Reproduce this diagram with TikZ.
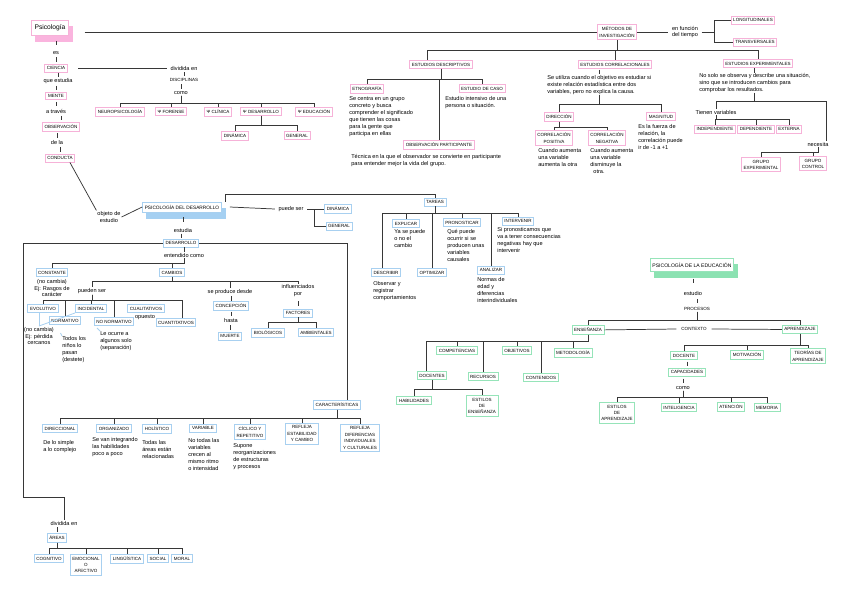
\documentclass[tikz,border=0pt]{standalone}
\usepackage{fontspec}
\setmainfont{Liberation Sans}
\usetikzlibrary{calc,backgrounds}
\definecolor{linec}{RGB}{55,55,55}
\definecolor{pinkc}{RGB}{246,178,216}
\definecolor{pinkf}{RGB}{250,180,222}
\definecolor{bluec}{RGB}{168,208,240}
\definecolor{bluef}{RGB}{165,208,242}
\definecolor{greenc}{RGB}{150,228,185}
\definecolor{greenf}{RGB}{140,226,178}
\newcommand\mytree[3]{\foreach \kid in {#3}{\draw[ln] (#1.south) -- (#1.south |- 0,#2) -| (\kid);}}
\newcommand\tk[2]{\draw[ln] ($(#1.south -| #2.north)!0.5!(#2.north)$) ++(0,-2.2) -- ++(0,4.4);}
\newcommand\shad[2]{\begin{pgfonlayer}{background}\fill[#2] ([shift={(3pt,-4.5pt)}]#1.north west) rectangle ([shift={(3pt,-4.5pt)}]#1.south east);\end{pgfonlayer}}
\begin{document}
\begin{tikzpicture}[x=0.75pt,y=-0.75pt,
  ln/.style={draw=linec,line width=0.55pt},
  lbl/.style={draw=bluec,line width=0.6pt},
  boxbase/.style={fill=white,line width=0.7pt,inner xsep=1.6pt,inner ysep=1.8pt,align=center,font=\fontsize{3.4}{4.8}\selectfont},
  pb/.style={boxbase,draw=pinkc},
  bb/.style={boxbase,draw=bluec},
  gb/.style={boxbase,draw=greenc},
  lab/.style={inner sep=0.6pt,align=center,font=\fontsize{4.2}{5.2}\selectfont},
  capl/.style={inner sep=0.6pt,align=center,font=\fontsize{3.4}{4.6}\selectfont},
  dtext/.style={inner sep=0pt,align=left,anchor=north west,font=\fontsize{4.2}{5.25}\selectfont}]
\begin{pgfonlayer}{background}
\fill[white] (0,0) rectangle (848,600);
\end{pgfonlayer}
\useasboundingbox (0,0) rectangle (848,600);

% ---------------- pink: Psicologia ----------------
\node[pb,font=\fontsize{5}{6}\selectfont,inner xsep=2pt,inner ysep=3pt] (psi) at (50,28) {Psicología};
\shad{psi}{pinkf}
\node[lab] (es) at (56,53) {es};
\node[pb] (cien) at (56,68) {CIENCIA};
\node[lab] (qe) at (58,81) {que estudia};
\node[pb] (mente) at (56,96) {MENTE};
\node[lab] (atr) at (56,111) {a través};
\node[pb] (obs) at (61,127) {OBSERVACIÓN};
\node[lab] (dla) at (57,142) {de la};
\node[pb] (cond) at (60,158) {CONDUCTA};
\tk{psi}{es} \tk{es}{cien} \tk{cien}{qe} \tk{qe}{mente} \tk{mente}{atr} \tk{atr}{obs} \tk{obs}{dla} \tk{dla}{cond}

\node[lab] (divd) at (184,68) {dividida en};
\node[capl] (disc) at (184,80) {DISCIPLINAS};
\node[lab] (como) at (181,93) {como};
\draw[ln] ([xshift=8pt]cien.east) -- ([xshift=-2pt]divd.west);
\tk{divd}{disc} \tk{disc}{como}
\node[pb,anchor=north] (neuro) at (120,107) {NEUROPSICOLOGÍA};
\node[pb,anchor=north] (fore) at (171,107) {Ψ FORENSE};
\node[pb,anchor=north] (clin) at (218,107) {Ψ CLÍNICA};
\node[pb,anchor=north] (ydes) at (261,107) {Ψ DESARROLLO};
\node[pb,anchor=north] (yedu) at (314,107) {Ψ EDUCACIÓN};
\mytree{como}{103}{neuro.north,fore.north,clin.north,ydes.north,yedu.north}
\node[pb,anchor=north] (din1) at (235,131) {DINÁMICA};
\node[pb,anchor=north] (gen1) at (297,131) {GENERAL};
\mytree{ydes}{125}{din1.north,gen1.north}

% metodos
\node[pb] (met) at (617,32) {MÉTODOS DE\\INVESTIGACIÓN};
\draw[ln] ([shift={(12pt,-3pt)}]psi.east) -- (met.west);
\node[lab] (enf) at (685,32) {en función\\del tiempo};
\draw[ln] (met.east) -- ([xshift=-2pt]enf.west);
\node[pb] (long) at (753,20) {LONGITUDINALES};
\node[pb] (trans) at (755,42) {TRANSVERSALES};
\draw[ln] ([xshift=2pt]enf.east) -- ++(13,0) coordinate (bk1);
\draw[ln] (long.west) -| (bk1) |- (trans.west);

\node[pb,anchor=north] (desc1) at (441,60) {ESTUDIOS DESCRIPTIVOS};
\node[pb,anchor=north] (correl) at (615,60) {ESTUDIOS CORRELACIONALES};
\node[pb,anchor=north] (exper) at (758,59) {ESTUDIOS EXPERIMENTALES};
\coordinate (desc1t) at ([xshift=-10pt]desc1.north);
\mytree{met}{50}{desc1t,correl.north,exper.north}

\node[pb,anchor=north] (etno) at (367,84) {ETNOGRAFÍA};
\node[pb,anchor=north] (caso) at (482,84) {ESTUDIO DE CASO};
\node[pb,anchor=north] (obsp) at (439,140) {OBSERVACIÓN PARTICIPANTE};
\mytree{desc1}{79}{etno.north,caso.north,obsp.north}
\node[dtext] (etnotx) at (349,96) {Se centra en un grupo\\concreto y busca\\comprender el significado\\que tienen las cosas\\para la gente que\\participa en ellas};
\node[dtext] (casotx) at (445,96) {Estudio intensivo de una\\persona o situación.};
\node[dtext] (obsptx) at (351,154) {Técnica en la que el observador se convierte en participante\\para entender mejor la vida del grupo.};

\node[dtext] (cortx) at (547,75) {Se utiliza cuando el objetivo es estudiar si\\existe relación estadística entre dos\\variables, pero no explica la causa.};
\tk{correl}{cortx}
\node[pb,anchor=north] (dir) at (559,112) {DIRECCIÓN};
\node[pb,anchor=north] (mag) at (661,112) {MAGNITUD};
\mytree{cortx}{104}{dir.north,mag.north}
\node[pb,anchor=north] (cpos) at (554,130) {CORRELACIÓN\\POSITIVA};
\node[pb,anchor=north] (cneg) at (607,130) {CORRELACIÓN\\NEGATIVA};
\mytree{dir}{127}{cpos.north,cneg.north}
\node[dtext] (cpostx) at (538,148) {Cuando aumenta\\una variable\\aumenta la otra};
\node[dtext] (cnegtx) at (590,148) {Cuando aumenta\\una variable\\disminuye la\\\ \ otra.};
\node[dtext] (magtx) at (638,124) {Es la fuerza de\\relación, la\\correlación puede\\ir de -1 a +1};

\node[dtext] (extx) at (699,73) {No solo se observa y describe una situación,\\sino que se introducen cambios para\\comprobar los resultados.};
\tk{exper}{extx}
\node[lab] (tien) at (716,112) {Tienen variables};
\node[lab] (nec) at (818,144) {necesita};
\coordinate (nect) at ([xshift=6pt]nec.north);
\mytree{extx}{101}{tien.north,nect}
\node[pb,anchor=north] (indep) at (715,125) {INDEPENDIENTE};
\node[pb,anchor=north] (dep) at (756,125) {DEPENDIENTE};
\node[pb,anchor=north] (ext) at (789,125) {EXTERNA};
\mytree{tien}{119}{indep.north,dep.north,ext.north}
\node[pb,anchor=north] (gexp) at (761,157) {GRUPO\\EXPERIMENTAL};
\node[pb,anchor=north] (gctrl) at (813,156) {GRUPO\\CONTROL};
\mytree{nec}{152}{gexp.north,gctrl.north}

% ---------------- blue: Psicologia del desarrollo ----------------
\node[lab] (obj) at (109,217) {objeto de\\estudio};
\draw[ln] ([xshift=-4pt]cond.south east) -- (obj.north west);
\node[bb,font=\fontsize{3.6}{4.8}\selectfont,inner ysep=2.2pt] (pdes) at (182,207) {PSICOLOGÍA DEL DESARROLLO};
\shad{pdes}{bluef}
\draw[ln] (obj.east) -- (pdes.west);
\node[lab] (pued1) at (291,209) {puede ser};
\draw[ln] ([xshift=6pt]pdes.east) -- ([xshift=-2pt]pued1.west);
\node[bb] (din2) at (338,209) {DINÁMICA};
\node[bb] (gen2) at (339,226) {GENERAL};
\draw[ln] ([xshift=2pt]pued1.east) -- (din2.west);
\coordinate (bk2) at ($(pued1.east)+(10,0)$);
\draw[ln] (bk2) |- (gen2.west);

\node[bb] (tareas) at (435,202) {TAREAS};
\draw[ln] ([xshift=3pt]pdes.north east) |- (tareas.north |- 0,194) -- (tareas.north);

\node[lab] (estd) at (183,230) {estudia};
\node[bb] (desa) at (181,243) {DESARROLLO};
\tk{pdes}{estd} \tk{estd}{desa}
\node[lab] (ent) at (184,255) {entendido como};
\tk{desa}{ent}
\node[bb,anchor=north] (const) at (52,268) {CONSTANTE};
\node[bb,anchor=north] (camb) at (172,268) {CAMBIOS};
\mytree{ent}{263}{const.north,camb.north}
\node[lab,anchor=north] (consttx) at (52,278) {(no cambia)\\Ej: Rasgos de\\carácter};

\node[lab] (pued2) at (92,291) {pueden ser};
\node[lab] (sepr) at (230,292) {se produce desde};
\node[lab] (infl) at (298,291) {influenciados\\por};
\mytree{camb}{281}{pued2.north,sepr.north,infl.north}

\node[bb,anchor=north] (evol) at (43,304) {EVOLUTIVO};
\node[bb,anchor=north] (incid) at (91,304) {INCIDENTAL};
\node[bb,anchor=north] (normat) at (65,316) {NORMATIVO};
\node[bb,anchor=north] (nonorm) at (114,317) {NO NORMATIVO};
\node[bb,anchor=north] (cuali) at (146,304) {CUALITATIVOS};
\node[lab] (opu) at (145,317) {opuesto};
\node[bb,anchor=north] (cuanti) at (176,318) {CUANTITATIVOS};
\coordinate (cuantit) at ([xshift=5pt]cuanti.north);
\mytree{pued2}{300}{evol.north,incid.north,normat.north,nonorm.north,cuantit}
\node[lab,anchor=north] (nocam) at (39,326) {(no cambia)\\Ej: pérdida\\cercanos};
\draw[lbl] (evol.south -| nocam.north) -- (nocam.north);
\draw[lbl] (incid.south west) -- (nocam.north);
\node[dtext] (todos) at (62,336) {Todos los\\niños lo\\pasan\\(destete)};
\draw[lbl] (todos.north west) -- ++(-1.5,-3);
\node[dtext] (leoc) at (100,331) {Le ocurre a\\algunos solo\\(separación)};
\draw[lbl] (leoc.north west) -- ++(-3,-3);

\node[bb] (concep) at (231,306) {CONCEPCIÓN};
\node[lab] (hasta) at (231,320) {hasta};
\node[bb] (muerte) at (230,336) {MUERTE};
\tk{sepr}{concep} \tk{concep}{hasta} \tk{hasta}{muerte}
\node[bb] (fact) at (298,313) {FACTORES};
\tk{infl}{fact}
\node[bb,anchor=north] (bio) at (268,328) {BIOLÓGICOS};
\node[bb,anchor=north] (amb) at (316,328) {AMBIENTALES};
\mytree{fact}{322}{bio.north,amb.north}

\node[bb] (car) at (337,405) {CARACTERÍSTICAS};
\draw[ln] (desa.east) -| ([xshift=7.5pt]car.north);
\node[bb,anchor=north] (direc) at (60,424) {DIRECCIONAL};
\node[bb,anchor=north] (organ) at (114,424) {ORGANIZADO};
\node[bb,anchor=north] (holis) at (157,424) {HOLÍSTICO};
\node[bb,anchor=north] (variab) at (203,424) {VARIABLE};
\node[bb,anchor=north] (cicl) at (250,424) {CÍCLICO Y\\REPETITIVO};
\node[bb,anchor=north] (refe) at (302,423) {REFLEJA\\ESTABILIDAD\\Y CAMBIO};
\node[bb,anchor=north] (refd) at (360,424) {REFLEJA\\DIFERENCIAS\\INDIVIDUALES\\Y CULTURALES};
\mytree{car}{418}{direc.north,organ.north,holis.north,variab.north,cicl.north,refe.north,refd.north}
\node[dtext] at (43,440) {De lo simple\\a lo complejo};
\node[dtext] at (92,437) {Se van integrando\\las habilidades\\poco a poco};
\node[dtext] at (142,440) {Todas las\\áreas están\\relacionadas};
\node[dtext] at (188,438) {No todas las\\variables\\crecen al\\mismo ritmo\\o intensidad};
\node[dtext] at (233,443) {Supone\\reorganizaciones\\de estructuras\\y procesos};

\node[lab] (div2) at (64,523) {dividida en};
\draw[ln] (desa.west) -- (desa.west -| 23,0) |- (div2.north |- 0,497) -- (div2.north);
\node[bb] (areas) at (57,538) {ÁREAS};
\tk{div2}{areas}
\node[bb,anchor=north] (cogn) at (49,554) {COGNITIVO};
\node[bb,anchor=north] (emoc) at (86,554) {EMOCIONAL\\O\\AFECTIVO};
\node[bb,anchor=north] (ling) at (127,554) {LINGÜÍSTICA};
\node[bb,anchor=north] (soc) at (158,554) {SOCIAL};
\node[bb,anchor=north] (mor) at (182,554) {MORAL};
\mytree{areas}{548}{cogn.north,emoc.north,ling.north,soc.north,mor.north}

% tareas
\node[bb,anchor=north] (descr) at (386,268) {DESCRIBIR};
\node[bb,anchor=north] (expl) at (406,219) {EXPLICAR};
\node[bb,anchor=north] (optim) at (432,268) {OPTIMIZAR};
\node[bb,anchor=north] (pron) at (462,218) {PRONOSTICAR};
\node[bb,anchor=north] (anal) at (491,266) {ANALIZAR};
\node[bb,anchor=north] (interv) at (518,217) {INTERVENIR};
\coordinate (descrt) at ([xshift=-3pt]descr.north);
\mytree{tareas}{213}{descrt,expl.north,optim.north,pron.north,anal.north,interv.north}
\node[dtext] at (394,229) {Ya se puede\\o no el\\cambio};
\node[dtext] at (447,229) {Qué puede\\ocurrir si se\\producen unas\\variables\\causales};
\node[dtext] at (497,227) {Si pronosticamos que\\va a tener consecuencias\\negativas hay que\\intervenir};
\node[dtext] at (477,277) {Normas de\\edad y\\diferencias\\interindividuales};
\node[dtext] at (373,281) {Observar y\\registrar\\comportamientos};

% ---------------- green: Psicologia de la educacion ----------------
\node[gb,font=\fontsize{3.8}{4.8}\selectfont,inner ysep=3pt] (peduc) at (692,265) {PSICOLOGÍA DE LA EDUCACIÓN};
\shad{peduc}{greenf}
\node[lab] (estu) at (693,293) {estudio};
\node[capl] (proc) at (697,309) {PROCESOS};
\tk{peduc}{estu} \tk{estu}{proc}
\node[gb,anchor=north] (ensen) at (588,325) {ENSEÑANZA};
\node[gb,anchor=north] (aprend) at (800,325) {APRENDIZAJE};
\mytree{proc}{320}{ensen.north,aprend.north}
\node[capl] (ctx) at (694,329) {CONTEXTO};
\draw[ln] (ensen.east) -- ([xshift=-3pt]ctx.west);
\draw[ln] ([xshift=3pt]ctx.east) -- (aprend.west);

\node[gb,anchor=north] (doc) at (432,371) {DOCENTES};
\node[gb,anchor=north] (comp) at (457,346) {COMPETENCIAS};
\node[gb,anchor=north] (rec) at (483,372) {RECURSOS};
\node[gb,anchor=north] (objv) at (517,346) {OBJETIVOS};
\node[gb,anchor=north] (cont) at (541,373) {CONTENIDOS};
\node[gb,anchor=north] (metd) at (573,348) {METODOLOGÍA};
\coordinate (doct) at ([xshift=-4pt]doc.north);
\mytree{ensen}{341}{doct,comp.north,rec.north,objv.north,cont.north,metd.north}
\node[gb,anchor=north] (habil) at (414,396) {HABILIDADES};
\node[gb,anchor=north] (estens) at (482,395) {ESTILOS\\DE\\ENSEÑANZA};
\mytree{doc}{389}{habil.north,estens.north}

\node[gb,anchor=north] (docn) at (684,351) {DOCENTE};
\node[gb,anchor=north] (motiv) at (747,350) {MOTIVACIÓN};
\node[gb,anchor=north] (teor) at (808,348) {TEORÍAS DE\\APRENDIZAJE};
\mytree{aprend}{345}{docn.north,motiv.north,teor.north}
\node[gb] (capac) at (687,372) {CAPACIDADES};
\node[lab] (como2) at (683,388) {como};
\tk{docn}{capac} \tk{capac}{como2}
\node[gb,anchor=north] (estap) at (617,402) {ESTILOS\\DE\\APRENDIZAJE};
\node[gb,anchor=north] (intel) at (679,403) {INTELIGENCIA};
\node[gb,anchor=north] (aten) at (731,402) {ATENCIÓN};
\node[gb,anchor=north] (memo) at (767,403) {MEMORIA};
\mytree{como2}{397}{estap.north,intel.north,aten.north,memo.north}
\end{tikzpicture}
\end{document}
